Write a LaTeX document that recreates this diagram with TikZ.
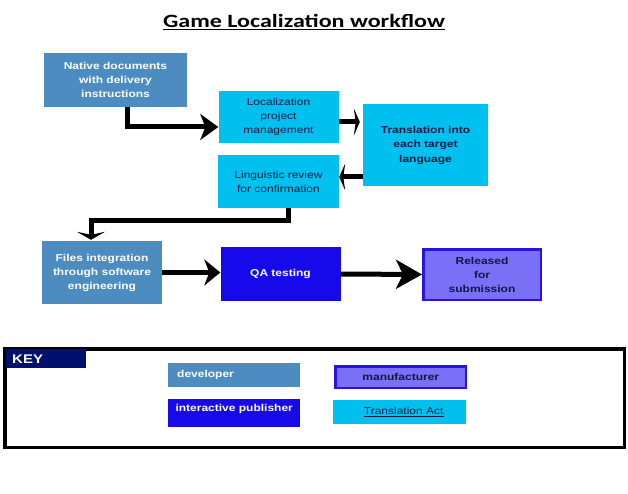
\documentclass[tikz,border=0pt]{standalone}
\usepackage{fontspec}
\setmainfont{Liberation Sans}[FakeStretch=1.2]
\newfontfamily\titlefont{Carlito}[FakeStretch=1.28]
\usetikzlibrary{arrows.meta}
\definecolor{devblue}{RGB}{76,140,192}
\definecolor{actcyan}{RGB}{0,192,240}
\definecolor{pubblue}{RGB}{22,10,235}
\definecolor{manviolet}{RGB}{122,112,245}
\definecolor{manedge}{RGB}{40,20,225}
\definecolor{keynavy}{RGB}{0,16,110}
\definecolor{inkdark}{RGB}{16,24,64}
\tikzset{
  box/.style={rectangle,inner sep=2pt,align=center,
    font=\fontsize{10}{14}\selectfont},
  devbox/.style={box,fill=devblue,text=white,
    font=\fontsize{10}{14}\selectfont\bfseries},
  actbox/.style={box,fill=actcyan,text=inkdark},
  pubbox/.style={box,fill=pubblue,text=white,
    font=\fontsize{10}{14}\selectfont\bfseries},
  manbox/.style={box,fill=manviolet,draw=manedge,line width=2.5pt,text=inkdark,
    font=\fontsize{10}{14}\selectfont\bfseries},
  flow/.style={line width=5pt},
  bighead/.style={-{Stealth[length=#1,width=26pt,inset=5pt]}},
  thinhead/.style={-{Stealth[length=6pt,width=27pt,inset=2pt]}},
}
\begin{document}
\begin{tikzpicture}[x=1pt,y=-1pt]
  \useasboundingbox (0,0) rectangle (628,494) ;
  % title
  \node (title) at (304,22)
    {\titlefont\bfseries\fontsize{18.8}{20}\selectfont\underline{Game Localization workflow}} ;
  % workflow boxes
  \node[devbox,minimum width=143pt,minimum height=54pt] (native) at (115.5,80)
    {Native documents\\with delivery\\instructions} ;
  \node[actbox,minimum width=120pt,minimum height=52pt] (loc) at (278.5,117)
    {Localization\\project\\management} ;
  \node[actbox,minimum width=125pt,minimum height=82pt,
    font=\fontsize{10}{14.5}\selectfont\bfseries] (trans) at (425.5,145)
    {Translation into\\each target\\language} ;
  \node[actbox,minimum width=121pt,minimum height=53pt] (ling) at (278.5,181.5)
    {Linguistic review\\for confirmation} ;
  \node[devbox,minimum width=120pt,minimum height=63pt] (files) at (102,272.5)
    {Files integration\\through software\\engineering} ;
  \node[pubbox,minimum width=120pt,minimum height=54pt] (qa) at (280.5,274)
    {QA testing} ;
  \node[manbox,minimum width=117.5pt,minimum height=50.5pt] (rel) at (482,274.5)
    {Released\\for\\submission} ;
  % arrows
  \draw[flow,bighead=18pt] ([xshift=11.5pt]native.south) |- ([yshift=-10pt]loc.west) ;
  \draw[flow,thinhead,shorten >=3pt] ([yshift=-5pt]loc.east) -- ([yshift=-5pt]loc.east -| trans.west) ;
  \draw[flow,thinhead] ([yshift=-32pt]trans.west) -- ([yshift=-32pt]trans.west -| ling.east) ;
  \draw[flow,-{Stealth[length=8pt,width=28pt,inset=3pt]},shorten >=1pt]
    ([xshift=10pt]ling.south) -- ++(0,12) -| ([xshift=-11pt]files.north) ;
  \draw[flow,bighead=16pt] (files.east) -- (files.east -| qa.west) ;
  \draw[flow,-{Stealth[length=26pt,width=29pt,inset=7pt]}] (qa.east) -- (rel.west) ;
  % key
  \draw[line width=3.5pt,line join=miter] (4.75,348.75) rectangle (624.25,447.25) ;
  \node[anchor=north west,fill=keynavy,text=white,inner xsep=6pt,inner ysep=0pt,
    text width=68pt,minimum height=19pt,align=left,
    font=\fontsize{12.5}{13}\selectfont\bfseries] (key) at (6,349) {KEY} ;
  \node[devbox,anchor=north west,minimum height=24pt,inner xsep=9pt,
    text width=114pt,align=left] (kdev) at (168,363) {developer} ;
  \node[pubbox,anchor=north west,text width=128pt,inner xsep=2pt,inner ysep=4pt,
    text height=8pt,text depth=12pt] (kpub) at (168,399) {interactive publisher} ;
  \node[manbox,anchor=north west,minimum width=130.5pt,minimum height=21.5pt]
    (kman) at (334.25,365.25) {manufacturer} ;
  \node[actbox,anchor=north west,minimum width=133pt,minimum height=24pt]
    (kact) at (333,400) {\hspace*{8pt}\underline{Translation Act}} ;
\end{tikzpicture}
\end{document}
